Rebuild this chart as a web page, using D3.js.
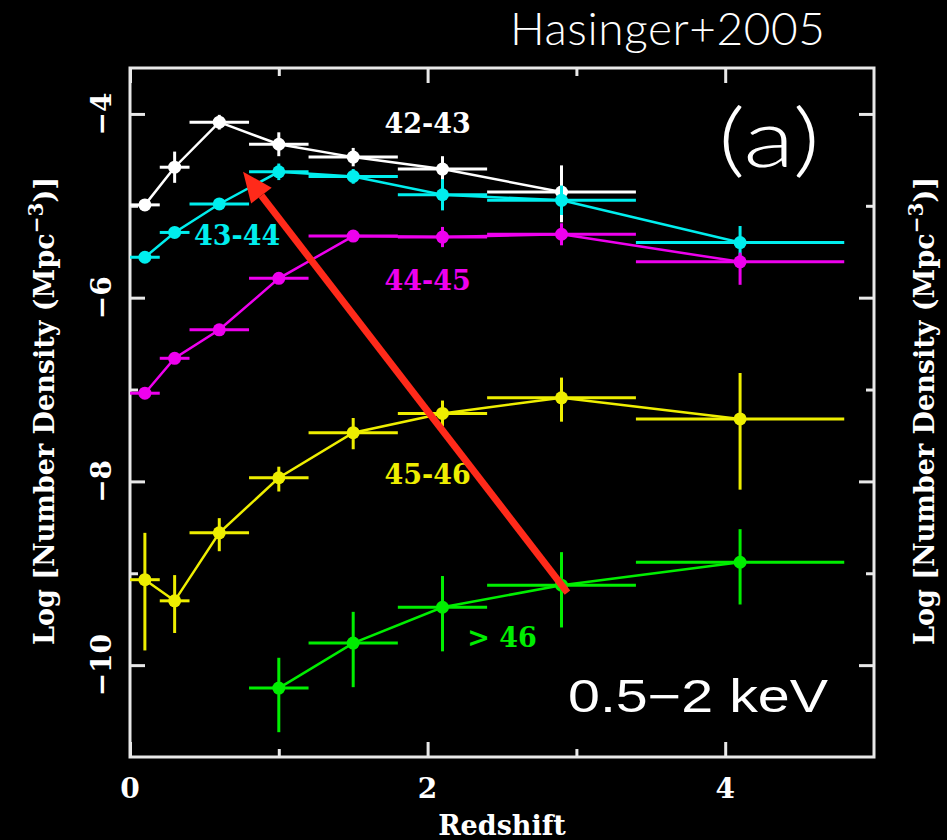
<!DOCTYPE html>
<html>
<head>
<meta charset="utf-8">
<script src="https://cdn.jsdelivr.net/npm/d3@7"></script>
<style>
  body { margin: 0; background: #000; }
  svg { display: block; }
</style>
</head>
<body>
<script>
// redshift bins (centre, low edge, high edge)
var zCenters = [0.1, 0.3, 0.6, 1.0, 1.5, 2.1, 2.9, 4.1];
var zLow     = [0.0, 0.2, 0.4, 0.8, 1.2, 1.8, 2.4, 3.4];
var zHigh    = [0.2, 0.4, 0.8, 1.2, 1.8, 2.4, 3.4, 4.8];

// log number density per luminosity class (null = no point)
var lum42_43 = [-4.99, -4.58, -4.09, -4.33, -4.47, -4.60, -4.85, null];
var lum43_44 = [-5.56, -5.29, -4.98, -4.63, -4.68, -4.88, -4.94, -5.40];
var lum44_45 = [-7.04, -6.66, -6.35, -5.79, -5.33, -5.34, -5.31, -5.61];
var lum45_46 = [-9.07, -9.30, -8.56, -7.96, -7.47, -7.26, -7.09, -7.32];
var lum46    = [null, null, null, -10.25, -9.76, -9.37, -9.13, -8.88];

// vertical errors (up / down)
var errUp42_43 = [0.03, 0.17, 0.08, 0.13, 0.10, 0.14, 0.29, null];
var errDn42_43 = [0.03, 0.17, 0.08, 0.13, 0.10, 0.14, 0.33, null];
var errUp43_44 = [0.03, 0.05, 0.05, 0.09, 0.08, 0.17, 0.16, 0.18];
var errDn43_44 = [0.03, 0.05, 0.05, 0.09, 0.08, 0.17, 0.16, 0.18];
var errUp44_45 = [0.04, 0.06, 0.05, 0.05, 0.05, 0.11, 0.12, 0.10];
var errDn44_45 = [0.04, 0.06, 0.05, 0.05, 0.05, 0.11, 0.12, 0.25];
var errUp45_46 = [0.51, 0.28, 0.16, 0.12, 0.16, 0.14, 0.22, 0.50];
var errDn45_46 = [0.77, 0.35, 0.20, 0.15, 0.18, 0.14, 0.26, 0.77];
var errUp46    = [null, null, null, 0.33, 0.34, 0.34, 0.36, 0.36];
var errDn46    = [null, null, null, 0.48, 0.48, 0.48, 0.46, 0.46];

var seriesNames  = ["42-43", "43-44", "44-45", "45-46", "> 46"];
var seriesColors = ["#ffffff", "#00eeee", "#ee00ee", "#eeee00", "#00ee00"];
// label anchors (redshift, log density)
var labelZ    = [2.0, 0.72, 2.0, 2.0, 2.5];
var labelLogN = [-4.10, -5.32, -5.81, -7.92, -9.70];

var xTicks = [0, 2, 4], xMinor = [1, 3];
var yTicks = [-4, -6, -8, -10], yMinor = [-5, -7, -9];

// arrow annotation (redshift, log density)
var arrowFrom = [2.94, -9.21];
var arrowTo   = [0.76, -4.63];

var W = 947, H = 840;
var pL = 130, pR = 874, pT = 68, pB = 757;

var x = d3.scaleLinear().domain([0, 5]).range([pL, pR]);
var y = d3.scaleLinear().domain([-11, -3.5]).range([pB, pT]);

var svg = d3.select("body").append("svg")
  .attr("width", W).attr("height", H)
  .style("background", "#000");

var serif = "'DejaVu Serif', 'Liberation Serif', serif";
var frameCol = "#e8e8e8";

// ticks, all pointing inward
function tickAxis(gen, tx, ty, vals, size) {
  var g = svg.append("g").attr("transform", "translate(" + tx + "," + ty + ")")
    .call(gen.tickValues(vals).tickSizeInner(size).tickSizeOuter(0).tickFormat(""));
  g.select(".domain").remove();
  g.selectAll("line").attr("stroke", frameCol).attr("stroke-width", 3);
  return g;
}
tickAxis(d3.axisBottom(x), 0, pB, xTicks, -15);
tickAxis(d3.axisBottom(x), 0, pB, xMinor, -8);
tickAxis(d3.axisTop(x), 0, pT, xTicks, -15);
tickAxis(d3.axisTop(x), 0, pT, xMinor, -8);
tickAxis(d3.axisLeft(y), pL, 0, yTicks, -15);
tickAxis(d3.axisLeft(y), pL, 0, yMinor, -8);
tickAxis(d3.axisRight(y), pR, 0, yTicks, -15);
tickAxis(d3.axisRight(y), pR, 0, yMinor, -8);

// frame
svg.append("rect")
  .attr("x", pL).attr("y", pT)
  .attr("width", pR - pL).attr("height", pB - pT)
  .attr("fill", "none").attr("stroke", frameCol).attr("stroke-width", 3);

// tick labels
svg.selectAll(".xl").data(xTicks).enter().append("text")
  .attr("x", function(d){ return x(d); }).attr("y", 798)
  .attr("text-anchor", "middle")
  .attr("fill", "#fff").attr("font-family", serif).attr("font-weight", "bold")
  .attr("font-size", 28)
  .text(function(d){ return d; });

svg.selectAll(".yl").data(yTicks).enter().append("text")
  .attr("transform", function(d){ return "translate(111," + y(d) + ") rotate(-90)"; })
  .attr("text-anchor", "middle")
  .attr("fill", "#fff").attr("font-family", serif).attr("font-weight", "bold")
  .attr("font-size", 28)
  .text(function(d){ return d3.format("")(d); });

// axis titles
svg.append("text")
  .attr("x", 502).attr("y", 835).attr("text-anchor", "middle")
  .attr("fill", "#fff").attr("font-family", serif).attr("font-weight", "bold")
  .attr("font-size", 27).text("Redshift");

[54, 934].forEach(function(px){
  var t = svg.append("text")
    .attr("transform", "translate(" + px + ",411) rotate(-90)")
    .attr("text-anchor", "middle")
    .attr("fill", "#fff").attr("font-family", serif).attr("font-weight", "bold")
    .attr("font-size", 27);
  t.append("tspan").text("Log [Number Density (Mpc");
  t.append("tspan").attr("dy", -11).attr("font-size", 20).text("\u22123");
  t.append("tspan").attr("dy", 11).text(")]");
});

// series
var allVals = [lum42_43, lum43_44, lum44_45, lum45_46, lum46];
var allUp = [errUp42_43, errUp43_44, errUp44_45, errUp45_46, errUp46];
var allDn = [errDn42_43, errDn43_44, errDn44_45, errDn45_46, errDn46];

var line = d3.line()
  .x(function(d){ return x(d.z); }).y(function(d){ return y(d.v); });

allVals.forEach(function(vals, s) {
  var col = seriesColors[s];
  var pts = vals.map(function(v, i){
    return { z: zCenters[i], lo: zLow[i], hi: zHigh[i], v: v, up: allUp[s][i], dn: allDn[s][i] };
  });
  var ok = pts.filter(function(p){ return p.v !== null; });
  var g = svg.append("g");

  g.selectAll(".xe").data(ok).enter().append("line")
    .attr("x1", function(d){ return x(d.lo); }).attr("x2", function(d){ return x(d.hi); })
    .attr("y1", function(d){ return y(d.v); }).attr("y2", function(d){ return y(d.v); })
    .attr("stroke", col).attr("stroke-width", 3);

  g.selectAll(".ye").data(ok).enter().append("line")
    .attr("x1", function(d){ return x(d.z); }).attr("x2", function(d){ return x(d.z); })
    .attr("y1", function(d){ return y(d.v + d.up); }).attr("y2", function(d){ return y(d.v - d.dn); })
    .attr("stroke", col).attr("stroke-width", 3);

  g.append("path").datum(ok).attr("d", line)
    .attr("fill", "none").attr("stroke", col).attr("stroke-width", 2.5);

  g.selectAll("circle").data(ok).enter().append("circle")
    .attr("cx", function(d){ return x(d.z); }).attr("cy", function(d){ return y(d.v); })
    .attr("r", 6.5).attr("fill", col);

  svg.append("text")
    .attr("x", x(labelZ[s])).attr("y", y(labelLogN[s]))
    .attr("dy", "0.36em").attr("text-anchor", "middle")
    .attr("fill", col).attr("font-family", serif).attr("font-weight", "bold")
    .attr("font-size", 27).text(seriesNames[s]);
});

// red arrow
var ax1 = x(arrowFrom[0]), ay1 = y(arrowFrom[1]);
var ax2 = x(arrowTo[0]), ay2 = y(arrowTo[1]);
var ang = Math.atan2(ay2 - ay1, ax2 - ax1);
var headL = 30, headW = 13;
var bx = ax2 - headL * Math.cos(ang), by = ay2 - headL * Math.sin(ang);
svg.append("line")
  .attr("x1", ax1).attr("y1", ay1).attr("x2", bx).attr("y2", by)
  .attr("stroke", "#ff2a1a").attr("stroke-width", 7);
svg.append("path")
  .attr("d", "M" + ax2 + "," + ay2 +
    "L" + (bx + headW * Math.sin(ang)) + "," + (by - headW * Math.cos(ang)) +
    "L" + (bx - headW * Math.sin(ang)) + "," + (by + headW * Math.cos(ang)) + "Z")
  .attr("fill", "#ff2a1a");

// panel annotations
svg.append("text")
  .attr("x", 769).attr("y", 167).attr("text-anchor", "middle")
  .attr("textLength", 102).attr("lengthAdjust", "spacingAndGlyphs")
  .attr("fill", "#fff").attr("font-family", "Lato, 'Open Sans', sans-serif")
  .attr("font-weight", 300).attr("font-size", 80).text("(a)");

svg.append("text")
  .attr("x", 568).attr("y", 712)
  .attr("textLength", 260).attr("lengthAdjust", "spacingAndGlyphs")
  .attr("fill", "#fff").attr("font-family", "'Liberation Sans', Arial, sans-serif")
  .attr("font-size", 46).text("0.5\u22122 keV");

svg.append("text")
  .attr("x", 510).attr("y", 45)
  .attr("textLength", 315).attr("lengthAdjust", "spacing")
  .attr("fill", "#fff").attr("font-family", "Lato, 'Open Sans', sans-serif")
  .attr("font-weight", 300).attr("font-size", 46).text("Hasinger+2005");
</script>
</body>
</html>
